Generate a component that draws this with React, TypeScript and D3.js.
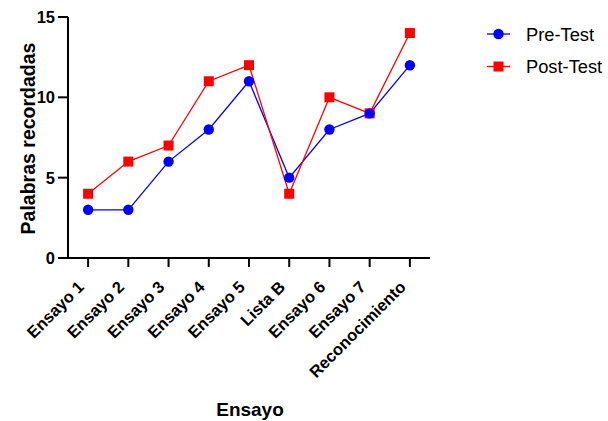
import React from "react";
import * as d3 from "d3";

const categories = ["Ensayo 1", "Ensayo 2", "Ensayo 3", "Ensayo 4", "Ensayo 5", "Lista B", "Ensayo 6", "Ensayo 7", "Reconocimiento"];
const preTest = [3, 3, 6, 8, 11, 5, 8, 9, 12];
const postTest = [4, 6, 7, 11, 12, 4, 10, 9, 14];
const yTicks = [0, 5, 10, 15];

const W = 608, H = 421;
const left = 68, right = 430, top = 17, bottom = 258;
const FONT = "'Liberation Sans', Arial, sans-serif";

export default function App() {
  const x = d3.scalePoint<string>().domain(categories).range([left, right]).padding(0.5);
  const y = d3.scaleLinear().domain([0, 15]).range([bottom, top]);
  const line = d3.line<number>().x((_, i) => x(categories[i])!).y(d => y(d));

  return (
    <svg width={W} height={H} style={{ position: "absolute", left: 0, top: 0, background: "#fff" }} fontFamily={FONT}>
      {/* lines */}
      <path d={line(preTest)!} fill="none" stroke="#0000FF" strokeWidth={1.3} />
      <path d={line(postTest)!} fill="none" stroke="#FF0000" strokeWidth={1.3} />
      {postTest.map((v, i) => (
        <rect key={"s" + i} x={x(categories[i])! - 5} y={y(v) - 5} width={10} height={10} fill="#FF0000" />
      ))}
      {preTest.map((v, i) => (
        <circle key={"c" + i} cx={x(categories[i])!} cy={y(v)} r={5.2} fill="#0000FF" />
      ))}
      {/* axes */}
      <line x1={left} x2={left} y1={top} y2={bottom + 1} stroke="#000" strokeWidth={2} />
      <line x1={left - 1} x2={right} y1={bottom} y2={bottom} stroke="#000" strokeWidth={2} />
      {yTicks.map(t => (
        <g key={"yt" + t}>
          <line x1={left - 10} x2={left} y1={y(t)} y2={y(t)} stroke="#000" strokeWidth={2} />
          <text x={left - 13} y={y(t)} dy="0.36em" textAnchor="end" fontSize={16.5} fontWeight="bold">{t}</text>
        </g>
      ))}
      {categories.map(c => (
        <g key={"xt" + c}>
          <line x1={x(c)!} x2={x(c)!} y1={bottom} y2={bottom + 9} stroke="#000" strokeWidth={2} />
          <text transform={`translate(${x(c)! - 3},${bottom + 30}) rotate(-45)`} textAnchor="end" fontSize={16.5} fontWeight="bold">{c}</text>
        </g>
      ))}
      <text transform={`translate(35,${(top + bottom) / 2 + 1}) rotate(-90)`} textAnchor="middle" fontSize={19.5} fontWeight="bold">Palabras recordadas</text>
      <text x={(left + right) / 2 + 1} y={416} textAnchor="middle" fontSize={19} fontWeight="bold">Ensayo</text>
      {/* legend */}
      <g>
        <line x1={487} x2={510} y1={34} y2={34} stroke="#0000FF" strokeWidth={1.3} />
        <circle cx={498.5} cy={34} r={5.2} fill="#0000FF" />
        <text x={526} y={34} dy="0.36em" fontSize={18.3}>Pre-Test</text>
        <line x1={487} x2={510} y1={66.5} y2={66.5} stroke="#FF0000" strokeWidth={1.3} />
        <rect x={493.5} y={61.5} width={10} height={10} fill="#FF0000" />
        <text x={526} y={66.5} dy="0.36em" fontSize={18.3}>Post-Test</text>
      </g>
    </svg>
  );
}
